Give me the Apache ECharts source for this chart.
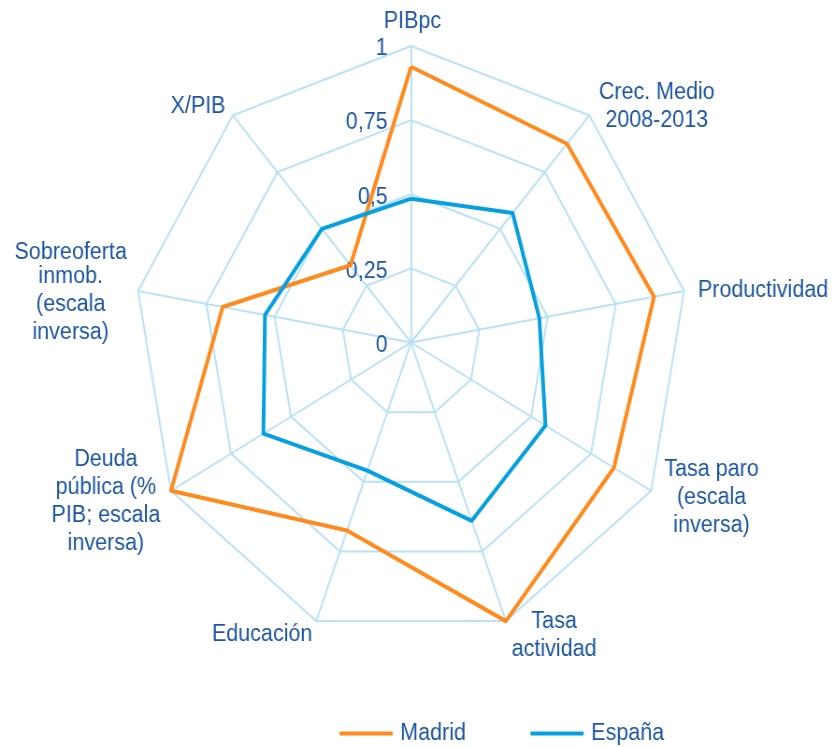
<!DOCTYPE html>
<html>
<head>
<meta charset="utf-8">
<script src="https://cdn.jsdelivr.net/npm/echarts@6/dist/echarts.min.js"></script>
<style>
  html, body { margin: 0; padding: 0; background: #fff; overflow: hidden; }
  #chart { width: 890px; height: 747px; transform: scaleX(0.935); transform-origin: 0 0; }
</style>
</head>
<body>
<div id="chart"></div>
<script>
// indicators clockwise from the top
const indicators = ['PIBpc', 'Crec. Medio\n2008-2013', 'Productividad', 'Tasa paro\n(escala\ninversa)', 'Tasa\nactividad', 'Educación', 'Deuda\npública (%\nPIB; escala\ninversa)', 'Sobreoferta\ninmob.\n(escala\ninversa)', 'X/PIB'];
const madrid = [0.93, 0.875, 0.89, 0.845, 1.0, 0.675, 1.0, 0.69, 0.34];
const espana = [0.485, 0.57, 0.47, 0.56, 0.64, 0.46, 0.615, 0.535, 0.5];
const seriesNames = ['Madrid', 'España'];

// name placement: gap along the spoke, sideways shift (padding [t, r, b, l]) and a small downward nudge
const nameGaps = [24, 12, 0, 14, 15, 14, 22, 0, 12];
const namePad = [
  [0, 0, 0, 3], [0, 0, 0, 129], [0, 0, 0, 169], [0, 0, 0, 105], [0, 0, 0, 93],
  [0, 106, 0, 0], [0, 101, 0, 0], [0, 144, 0, 0], [0, 59, 0, 0]
];
const nameNudge = [0, 0, 0, 0, 0, 0, 0, 4, 0];

const textColor = '#1C55A3';
const gridColor = '#B9E2F5';
const font = 'Liberation Sans, Arial, sans-serif';

// echarts lays indicators counter-clockwise, so keep the first and reverse the rest
const order = [0].concat(indicators.map((_, i) => i).slice(1).reverse());
const pick = arr => order.map(i => arr[i]);

const nameRich = {};
indicators.forEach((_, i) => {
  if (nameNudge[i]) {
    nameRich['n' + i] = { color: textColor, fontSize: 23, lineHeight: 28, fontFamily: font, padding: [2 * nameNudge[i], 0, 0, 0] };
  }
});

const chart = echarts.init(document.getElementById('chart'));
chart.setOption({
  animation: false,
  textStyle: { fontFamily: font },
  legend: {
    data: seriesNames,
    left: 358,
    top: 717,
    icon: 'roundRect',
    itemWidth: 57,
    itemHeight: 4,
    itemGap: 69,
    textStyle: { color: textColor, fontSize: 23, padding: [0, 0, 0, 3] }
  },
  radar: {
    center: [439.6, 342.5],
    radius: 296.5,
    shape: 'polygon',
    splitNumber: 4,
    axisNameGap: 0,
    axisName: {
      color: textColor,
      fontSize: 23,
      lineHeight: 28,
      align: 'center',
      verticalAlign: 'middle',
      rich: nameRich,
      formatter: name => {
        const i = indicators.indexOf(name);
        if (!nameNudge[i]) return name;
        const lines = name.split('\n');
        lines[0] = '{n' + i + '|' + lines[0] + '}';
        return lines.join('\n');
      }
    },
    axisLine: { lineStyle: { color: gridColor, width: 2 } },
    splitLine: { lineStyle: { color: gridColor, width: 2 } },
    splitArea: { show: false },
    axisTick: { show: false },
    axisLabel: { show: false },
    indicator: pick(indicators.map((name, i) => ({
      name: name,
      min: 0,
      max: 1,
      nameGap: nameGaps[i],
      nameTextStyle: { padding: namePad[i] },
      axisLabel: i === 0 ? {
        show: true,
        color: textColor,
        fontSize: 23,
        margin: 25,
        formatter: v => '{t|' + String(v).replace('.', ',') + '}',
        rich: { t: { color: textColor, fontSize: 23, padding: [6, 0, 0, 0] } }
      } : { show: false }
    })))
  },
  series: [{
    type: 'radar',
    symbol: 'none',
    data: [
      { name: seriesNames[0], value: pick(madrid), lineStyle: { color: '#FF8A1D', width: 4 }, itemStyle: { color: '#FF8A1D' } },
      { name: seriesNames[1], value: pick(espana), lineStyle: { color: '#06A0E0', width: 4 }, itemStyle: { color: '#06A0E0' } }
    ]
  }]
});
</script>
</body>
</html>
